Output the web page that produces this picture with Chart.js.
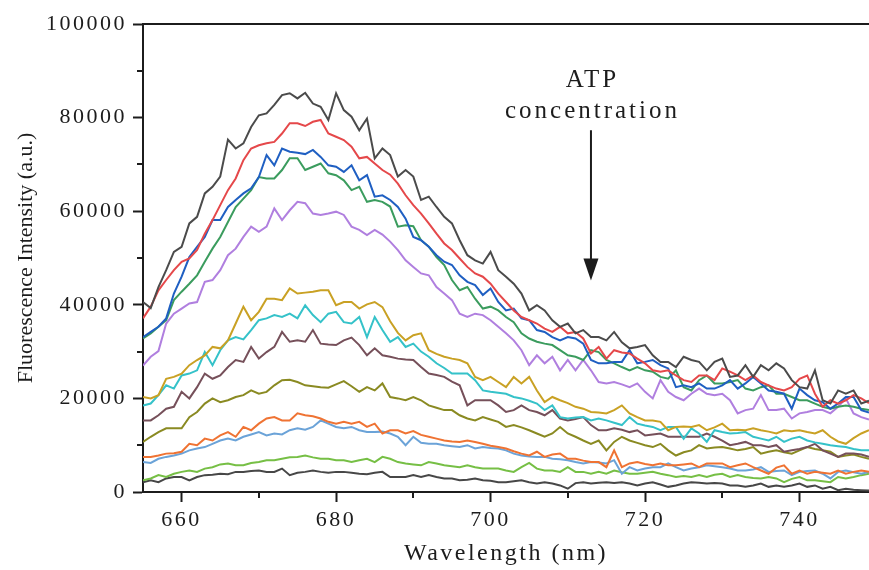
<!DOCTYPE html>
<html lang="en">
<head>
    <meta charset="UTF-8">
    <title>ATP fluorescence spectra</title>
    <script src="https://cdn.jsdelivr.net/npm/chart.js"></script>
    <style>
        html, body { margin: 0; padding: 0; background: #fff; }
        .chart-box { width: 869px; height: 570px; }
    </style>
</head>
<body>
    <div class="chart-box">
        <canvas id="spectra"></canvas>
    </div>

    <script>
        // emission wavelengths (nm)
        const wavelengths = [
            655, 656, 657, 658, 659, 660, 661, 662, 663, 664,
            665, 666, 667, 668, 669, 670, 671, 672, 673, 674,
            675, 676, 677, 678, 679, 680, 681, 682, 683, 684,
            685, 686, 687, 688, 689, 690, 691, 692, 693, 694,
            695, 696, 697, 698, 699, 700, 701, 702, 703, 704,
            705, 706, 707, 708, 709, 710, 711, 712, 713, 714,
            715, 716, 717, 718, 719, 720, 721, 722, 723, 724,
            725, 726, 727, 728, 729, 730, 731, 732, 733, 734,
            735, 736, 737, 738, 739, 740, 741, 742, 743, 744,
            745, 746, 747, 748, 749
        ];

        // fluorescence intensity (a.u.), from lowest to highest ATP concentration
        const atp0 = [
            40600, 39300, 43800, 47400, 51300, 52400, 57400, 58800, 63800, 65200,
            67400, 75300, 73400, 74500, 78000, 80500, 80900, 82700, 84800, 85200,
            84100, 85300, 83000, 82300, 79500, 85200, 81600, 80200, 77300, 79800,
            71300, 73400, 72000, 67400, 68800, 67400, 62400, 63100, 60900, 58800,
            57400, 53800, 50600, 49500, 48800, 51300, 47400, 46000, 44500, 42400,
            38800, 39900, 38800, 36700, 35300, 36000, 33900, 34600, 33100, 33100,
            32400, 34200, 32000, 30700, 31000, 31400, 29200, 27800, 27800, 26700,
            28900, 28200, 27800, 26000, 27800, 28500, 24600, 24900, 27100, 24600,
            27100, 26000, 27500, 26400, 23900, 22400, 22100, 26000, 19600, 18900,
            21700, 21000, 21700, 18900, 19500
        ];
        const atp1 = [
            37100, 39600, 43100, 45300, 47400, 49200, 49900, 51700, 55200, 58100,
            61300, 64500, 67000, 70900, 73400, 74100, 74500, 74800, 76600, 78800,
            78800, 78200, 79100, 79500, 76600, 75900, 75200, 73800, 71300, 71600,
            70200, 68800, 67800, 65900, 63400, 61300, 59500, 57400, 55200, 53100,
            51700, 49900, 48100, 46700, 46000, 44500, 42400, 40600, 38800, 37400,
            36700, 36000, 34900, 34200, 35300, 33900, 34200, 32800, 29600, 31000,
            28500, 30300, 29800, 29600, 28500, 27500, 26000, 25700, 26000, 24900,
            23900, 23500, 24900, 24900, 23900, 26400, 25700, 24900, 23900, 24900,
            23500, 22800, 22100, 21700, 22400, 24200, 24900, 21000, 18200, 19600,
            18900, 19600, 20700, 20000, 19000
        ];
        const atp2 = [
            33100, 34200, 35300, 37100, 42400, 46000, 50200, 52400, 54500, 58100,
            58100, 60900, 62400, 63800, 64900, 67300, 72000, 69800, 73400, 72700,
            72500, 72200, 73100, 71600, 69800, 69500, 68400, 69800, 66600, 67700,
            63100, 63400, 62400, 60900, 58400, 54500, 53800, 52400, 50600, 49200,
            48500, 46300, 44900, 44200, 42100, 43500, 40600, 38800, 39200, 37100,
            36700, 34600, 34200, 33100, 32400, 33100, 32800, 31700, 28200, 27500,
            27500, 27800, 27800, 30300, 27500, 27800, 28200, 27100, 26400, 22400,
            22800, 22400, 23200, 22100, 22100, 22800, 23900, 22100, 23200, 24600,
            23200, 21700, 21400, 21000, 17800, 22100, 20700, 19600, 19200, 17800,
            18900, 20300, 20300, 17500, 17000
        ];
        const atp3 = [
            32800, 33900, 35300, 36700, 41000, 42800, 44500, 46300, 49200, 52000,
            54500, 57700, 60900, 62700, 64500, 67300, 67000, 67000, 68800, 71300,
            71300, 68800, 69500, 70200, 68100, 67700, 66600, 64500, 65200, 62000,
            62400, 62000, 61000, 56700, 57000, 56800, 53800, 52400, 50200, 48500,
            45300, 43100, 43800, 41300, 39200, 39600, 38800, 37400, 36300, 33900,
            32800, 32100, 31700, 31400, 30300, 29200, 28900, 28200, 30300, 29900,
            28200, 27500, 26700, 26000, 26700, 26000, 25700, 24600, 24200, 26000,
            22400, 21700, 23900, 24900, 23200, 23200, 23500, 23900, 22100, 21700,
            22400, 22800, 21000, 21000, 20300, 19600, 19600, 18900, 18200, 17800,
            18200, 18500, 18200, 17800, 17500
        ];
        const atp4 = [
            27000, 28900, 30100, 36000, 38100, 39200, 40300, 40600, 44900, 45300,
            47400, 50600, 52000, 54500, 56700, 55600, 56700, 60600, 58100, 60200,
            62000, 61700, 59500, 59200, 59500, 59900, 59200, 56700, 56000, 54900,
            56000, 55000, 53500, 51700, 49500, 48100, 46700, 46300, 43800, 42400,
            41000, 38100, 37400, 38100, 37800, 36700, 35300, 33900, 32400, 30300,
            27100, 29200, 27500, 28900, 26000, 28200, 26000, 28200, 26000, 23500,
            23200, 23500, 23000, 22400, 23200, 21400, 20000, 23900, 21400, 20300,
            19600, 21000, 22100, 21000, 20700, 21000, 19600, 16800, 17500, 17800,
            20700, 17500, 17500, 17800, 15700, 16800, 17100, 17500, 17500, 16800,
            18200, 20000, 16800, 16000, 15500
        ];
        const atp5 = [
            20300, 20000, 20700, 24200, 24600, 25300, 27100, 28200, 29200, 31000,
            30700, 32400, 36000, 39600, 36700, 38500, 41300, 41300, 41000, 43500,
            42400, 42600, 42800, 43100, 43100, 39900, 40600, 40600, 39200, 40100,
            40600, 39500, 36500, 34000, 32400, 33500, 33900, 30300, 29500, 28900,
            28500, 28200, 27500, 24600, 23900, 24600, 23500, 22400, 24600, 23200,
            24600, 21700, 19200, 20300, 19600, 19000, 18200, 17800, 17100, 17000,
            16800, 17500, 18500, 16800, 16000, 15300, 15300, 15000, 13200, 13900,
            14000, 13900, 14300, 13200, 13800, 14600, 13200, 13300, 13200, 13600,
            13200, 12900, 12500, 13200, 13000, 13200, 12800, 12500, 13200, 11800,
            10800, 10300, 11500, 12500, 13200
        ];
        const atp6 = [
            18500, 18900, 20700, 22800, 22100, 24900, 25300, 26000, 29900, 27100,
            30300, 32400, 33100, 32600, 34600, 36700, 37100, 37800, 37400, 38100,
            37100, 39900, 37800, 36300, 38100, 38500, 36300, 36000, 37400, 33100,
            37400, 34600, 32100, 33100, 31000, 31700, 30000, 28900, 27500, 26500,
            25300, 25300, 25300, 23900, 21700, 21400, 21200, 21000, 20300, 20000,
            19500, 18900, 17500, 18500, 16000, 15700, 15900, 16000, 15300, 15700,
            15300, 14800, 14300, 16000, 14600, 14200, 13900, 13200, 13900, 13900,
            11400, 13600, 12500, 10700, 13200, 12800, 12500, 12600, 12800, 11800,
            11400, 11000, 11800, 10700, 11400, 11800, 11000, 10600, 10300, 10000,
            9800, 9600, 9200, 8900, 8900
        ];
        const atp7 = [
            15300, 15300, 16400, 17800, 18200, 21400, 20000, 22400, 25300, 24200,
            24900, 26700, 28200, 27800, 31000, 28500, 29900, 31000, 34200, 32100,
            32400, 32100, 34600, 31700, 31500, 31400, 32400, 33000, 31400, 29200,
            30700, 29200, 28900, 28500, 28300, 28200, 26700, 25300, 25000, 24600,
            23600, 22800, 18500, 19600, 19600, 19600, 18500, 17100, 17500, 18500,
            17500, 17100, 16400, 17500, 15700, 15300, 15600, 16000, 14300, 13200,
            13200, 13600, 13300, 12800, 13200, 12100, 12300, 12500, 11800, 11800,
            11800, 11800, 11800, 12500, 11800, 11000, 10000, 10300, 10700, 10000,
            10000, 9600, 10000, 8600, 8900, 9200, 9600, 10300, 8900, 8200,
            7500, 8200, 8200, 8000, 7500
        ];
        const atp8 = [
            10700, 11800, 12800, 13600, 13600, 13600, 16000, 17100, 18900, 20000,
            19200, 19600, 20300, 20700, 21700, 21000, 21400, 22800, 23900, 24000,
            23500, 22800, 22600, 22400, 22300, 23000, 23700, 22600, 21400, 22400,
            21700, 23200, 20300, 20000, 19600, 20300, 19600, 18500, 18000, 17500,
            17500, 16400, 15700, 15300, 16000, 15500, 15000, 13900, 14300, 13800,
            13200, 12500, 11800, 12500, 13900, 12500, 11800, 11000, 10300, 11000,
            8900, 10700, 11800, 11000, 10500, 10000, 9600, 10300, 8900, 7800,
            8500, 8900, 10000, 9300, 9500, 9600, 9300, 8900, 9200, 9600,
            8200, 8600, 8900, 8500, 8200, 8900, 9600, 9200, 8900, 8600,
            7500, 7800, 8000, 7500, 7100
        ];
        const atp9 = [
            7500, 7500, 7800, 8200, 8300, 8600, 10300, 10000, 11400, 11000,
            12100, 12800, 11800, 13900, 13200, 14600, 15700, 16000, 15300, 15300,
            16800, 16400, 16200, 15700, 15000, 14600, 15000, 14600, 15000, 13900,
            14600, 12500, 13200, 13200, 12500, 13000, 12200, 11800, 11400, 11000,
            10800, 10700, 11000, 10700, 10300, 9900, 9600, 9300, 8700, 8200,
            7800, 8600, 7500, 8000, 8200, 7100, 7100, 6700, 6400, 6400,
            5300, 8900, 5300, 6100, 6400, 6000, 5700, 6100, 5700, 5700,
            5900, 6100, 5300, 6100, 6100, 6100, 5300, 5700, 6100, 5300,
            4600, 3900, 5200, 5700, 3900, 4600, 3900, 4300, 4100, 3900,
            4600, 3900, 4300, 4600, 4300
        ];
        const atp10 = [
            6400, 6200, 7100, 7500, 7800, 8200, 8900, 9300, 9600, 10300,
            11000, 11400, 11000, 11800, 12300, 12800, 12100, 12500, 12300, 13200,
            13600, 13300, 13900, 15300, 14600, 13900, 13600, 13900, 13200, 12800,
            12800, 12900, 12500, 11800, 10000, 11800, 10500, 10300, 10300, 10000,
            9800, 9600, 10000, 9300, 9600, 9400, 9300, 8900, 8200, 7800,
            7600, 7500, 7500, 7100, 7000, 6800, 6400, 6100, 6400, 6300,
            6100, 6800, 3900, 5300, 4600, 5000, 5300, 5300, 6100, 5300,
            4600, 5000, 5300, 5700, 5500, 5300, 5000, 4600, 4600, 4800,
            5300, 4300, 4500, 4600, 3600, 4300, 4500, 4600, 3900, 2900,
            4300, 4600, 4200, 3900, 4300
        ];
        const atp11 = [
            2500, 2900, 3600, 3200, 3900, 4300, 4600, 4300, 5000, 5300,
            5900, 6100, 5700, 5700, 6200, 6400, 6800, 6800, 7100, 7400,
            7500, 7800, 7400, 7100, 7100, 6800, 6800, 6400, 6800, 7100,
            6400, 7500, 7100, 6400, 6100, 5900, 5700, 6400, 6100, 5700,
            5500, 5300, 5700, 5300, 5000, 5000, 5000, 4600, 4300, 5300,
            6200, 5000, 4600, 4600, 4300, 5300, 4300, 4300, 3900, 4300,
            3900, 4600, 4200, 3900, 3900, 4100, 4300, 3900, 3600, 3200,
            3400, 3200, 3600, 3200, 3700, 3900, 3200, 3600, 3200, 3000,
            2900, 3200, 2900, 2100, 2800, 3200, 2500, 2500, 2300, 2100,
            3200, 2900, 3200, 3600, 3900
        ];
        const atp12 = [
            2100, 2500, 2100, 2900, 3200, 3200, 2500, 3200, 3600, 3700,
            3900, 3800, 4300, 4300, 4500, 4600, 4300, 4300, 5000, 3600,
            4100, 4300, 4600, 4300, 4100, 4300, 4300, 4100, 3900, 3800,
            4100, 4300, 3200, 3200, 3200, 3600, 3200, 3600, 3200, 2900,
            2900, 2500, 2600, 2900, 2500, 2400, 2100, 2100, 2300, 2500,
            2100, 1800, 2100, 1800, 1400, 700, 1900, 2100, 1800, 2000,
            2100, 1900, 2100, 1800, 1400, 1800, 2100, 1600, 1100, 1400,
            1800, 2100, 2000, 1800, 1900, 1800, 1400, 1400, 1100, 1400,
            1800, 1100, 1400, 1100, 1400, 1800, 1100, 1400, 700, 1100,
            400, 700, 500, 400, 300
        ];

        const spectra = [atp0, atp1, atp2, atp3, atp4, atp5, atp6, atp7, atp8, atp9, atp10, atp11, atp12];
        const lineColors = ['#4b4b4b', '#e5484a', '#1f5fc2', '#3b9c5e', '#b07fdf', '#c9a124', '#35c2c9',
                            '#76505a', '#8a8a22', '#ef7333', '#6ba3d8', '#76bf45', '#474747'];

        // axes
        const xTicks = [660, 680, 700, 720, 740];
        const xMinorTicks = [670, 690, 710, 730];
        const yTicks = [0, 20000, 40000, 60000, 80000, 100000];
        const yMinorTicks = [10000, 30000, 50000, 70000, 90000];
        const xTitle = 'Wavelength (nm)';
        const yTitle = 'Fluorescence Intensity (a.u.)';

        // arrow note, in data units
        const noteLines = ['ATP', 'concentration'];
        const noteX = 713;
        const noteY = [86600, 79900];
        const arrowFrom = 77300;
        const arrowTo = 45200;

        const SERIF = "'Liberation Serif', 'Times New Roman', serif";
        const INK = '#1c1c1c';

        // frame top edge, minor ticks, y title and the arrow note
        const extras = {
            id: 'extras',
            beforeDraw(chart) {
                chart.ctx.letterSpacing = '2.5px';
            },
            afterDraw(chart) {
                const { ctx, chartArea: a, scales: { x, y } } = chart;
                ctx.save();
                ctx.strokeStyle = INK;
                ctx.fillStyle = INK;
                ctx.lineWidth = 2;
                ctx.beginPath();
                ctx.moveTo(a.left - 1, a.top);
                ctx.lineTo(a.right, a.top);
                xMinorTicks.forEach(v => {
                    const px = Math.round(x.getPixelForValue(v));
                    ctx.moveTo(px, a.bottom);
                    ctx.lineTo(px, a.bottom + 6);
                });
                yMinorTicks.forEach(v => {
                    const py = Math.round(y.getPixelForValue(v));
                    ctx.moveTo(a.left, py);
                    ctx.lineTo(a.left - 6, py);
                });
                ctx.stroke();

                ctx.save();
                ctx.letterSpacing = '0px';
                ctx.font = '22px ' + SERIF;
                ctx.textAlign = 'center';
                ctx.textBaseline = 'middle';
                ctx.translate(26, (a.top + a.bottom) / 2);
                ctx.rotate(-Math.PI / 2);
                ctx.fillText(yTitle, 0, 0);
                ctx.restore();

                const ax = x.getPixelForValue(noteX);
                ctx.letterSpacing = '3px';
                ctx.font = '25px ' + SERIF;
                ctx.textAlign = 'center';
                ctx.textBaseline = 'alphabetic';
                noteLines.forEach((t, i) => ctx.fillText(t, ax + 1.5, y.getPixelForValue(noteY[i])));

                const top = y.getPixelForValue(arrowFrom);
                const tip = y.getPixelForValue(arrowTo);
                ctx.beginPath();
                ctx.moveTo(ax, top);
                ctx.lineTo(ax, tip - 18);
                ctx.stroke();
                ctx.beginPath();
                ctx.moveTo(ax, tip);
                ctx.lineTo(ax - 7.5, tip - 22);
                ctx.lineTo(ax + 7.5, tip - 22);
                ctx.closePath();
                ctx.fill();
                ctx.restore();
            }
        };

        const datasets = spectra.map((vals, i) => ({
            label: 'ATP ' + i,
            data: wavelengths.map((w, j) => ({ x: w, y: vals[j] })),
            borderColor: lineColors[i],
            borderWidth: 2,
            pointRadius: 0,
            tension: 0,
            fill: false
        }));

        const axisFont = { family: SERIF, size: 22 };

        new Chart(document.getElementById('spectra').getContext('2d'), {
            type: 'line',
            data: { datasets },
            options: {
                responsive: true,
                maintainAspectRatio: false,
                animation: false,
                layout: { autoPadding: false, padding: { top: 24, left: 0, right: 0, bottom: 0 } },
                plugins: { legend: { display: false }, tooltip: { enabled: false } },
                scales: {
                    x: {
                        type: 'linear',
                        min: 655,
                        max: 749,
                        afterBuildTicks: s => { s.ticks = xTicks.map(v => ({ value: v })); },
                        afterFit: s => { s.height = 78; },
                        border: { color: INK, width: 2 },
                        grid: { drawOnChartArea: false, tickLength: 10, tickWidth: 2, tickColor: INK },
                        ticks: { font: axisFont, color: INK, padding: 5, maxRotation: 0, autoSkip: false,
                                 callback: v => String(v) },
                        title: { display: true, text: xTitle, color: INK, font: { family: SERIF, size: 24 }, padding: { top: 0, bottom: 2 } }
                    },
                    y: {
                        min: 0,
                        max: 100000,
                        afterBuildTicks: s => { s.ticks = yTicks.map(v => ({ value: v })); },
                        afterFit: s => { s.width = 143; },
                        border: { color: INK, width: 2 },
                        grid: { drawOnChartArea: false, tickLength: 10, tickWidth: 2, tickColor: INK },
                        ticks: { font: axisFont, color: INK, padding: 6, callback: v => String(v) }
                    }
                }
            },
            plugins: [extras]
        });
    </script>
</body>
</html>
